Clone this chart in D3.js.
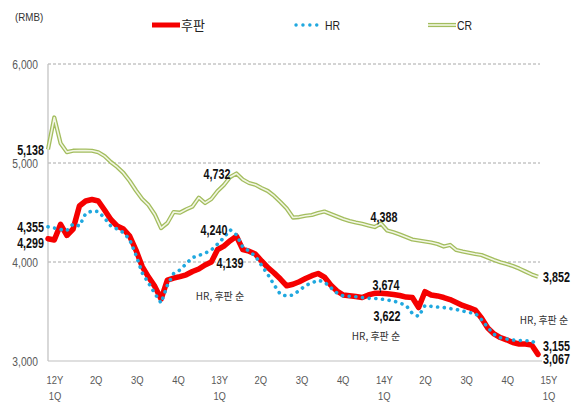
<!DOCTYPE html>
<html><head><meta charset="utf-8">
<script src="https://cdn.jsdelivr.net/npm/d3@7"></script>
<style>
body{margin:0;background:#fff;}
svg{display:block;}
.num{font-family:"Liberation Sans",Arial,sans-serif;}
.kr{font-family:"Noto Sans CJK KR","Noto Sans",sans-serif;}
</style></head><body>
<svg id="c" width="578" height="403"></svg>
<script>
// bi-weekly observations, 12Y 1Q .. 15Y 1Q
const plateValues = [4235,4222,4380,4268,4333,4566,4616,4631,4616,4525,
  4429,4364,4333,4262,4121,3954,3848,3754,3626,3818,
  3838,3853,3871,3904,3929,3970,4000,4126,4161,4215,
  4260,4126,4109,4081,4010,3944,3889,3828,3760,3775,
  3801,3833,3862,3884,3848,3768,3707,3667,3659,3651,
  3641,3667,3684,3684,3679,3672,3662,3646,3641,3540,
  3700,3667,3657,3641,3621,3591,3561,3540,3515,3434,
  3333,3273,3237,3214,3187,3172,3172,3162,3067];
const hrValues = [4355,4343,4328,4318,4384,4364,4490,4515,4510,4444,
  4364,4333,4298,4227,4071,3889,3788,3682,3586,3763,
  3884,3919,3983,4045,4066,4088,4121,4182,4247,4325,
  4275,4151,4111,4060,3965,3874,3768,3672,3657,3667,
  3712,3763,3788,3815,3798,3742,3687,3657,3654,3649,
  3641,3633,3633,3626,3616,3606,3586,3561,3480,3450,
  3560,3552,3545,3540,3530,3520,3505,3490,3482,3419,
  3338,3270,3235,3222,3212,3207,3205,3205,3155];
const crValues = [5138,5460,5200,5110,5124,5125,5126,5124,5108,5070,
  5010,4960,4900,4818,4722,4636,4575,4480,4343,4394,
  4505,4498,4532,4560,4650,4596,4636,4717,4778,4858,
  4894,4833,4798,4781,4747,4717,4667,4606,4540,4449,
  4454,4467,4475,4495,4510,4485,4459,4434,4414,4399,
  4386,4369,4353,4389,4318,4300,4278,4252,4227,4217,
  4207,4197,4182,4156,4172,4121,4106,4093,4081,4071,
  4045,4020,3997,3980,3960,3934,3904,3874,3852];
const quarterLabels = [["12Y","1Q"],["2Q"],["3Q"],["4Q"],["13Y","1Q"],["2Q"],["3Q"],["4Q"],["14Y","1Q"],["2Q"],["3Q"],["4Q"],["15Y","1Q"]];
const yTicks = [3000,4000,5000,6000];
const seriesNames = ["후판","HR","CR"];
const unitLabel = "(RMB)";
const noteText = "HR, 후판 순";

const svg = d3.select("#c");
const L = 48, R = 538, T = 64, B = 361;
const x = d3.scaleLinear().domain([0, plateValues.length - 1]).range([L, R]);
const y = d3.scaleLinear().domain([3000, 6000]).range([B, T]);
const xq = d3.scaleLinear().domain([0, quarterLabels.length - 1]).range([55, 549]);

// condense text horizontally (narrow face look)
function condense(sel, f) {
  sel.each(function() {
    const w = this.getComputedTextLength();
    d3.select(this).attr("textLength", w * f).attr("lengthAdjust", "spacingAndGlyphs");
  });
}

// gridlines
svg.append("g").selectAll("line").data(yTicks.filter(d => d > 3000)).join("line")
  .attr("x1", L).attr("x2", 540).attr("y1", d => y(d)).attr("y2", d => y(d))
  .attr("stroke", "#a8a8a8").attr("stroke-width", 1).attr("stroke-dasharray", "3,2");

// axes lines
svg.append("line").attr("x1", L).attr("x2", L).attr("y1", T).attr("y2", B)
  .attr("stroke", "#bfbfbf").attr("stroke-width", 1.2);
svg.append("line").attr("x1", L).attr("x2", 542).attr("y1", B).attr("y2", B)
  .attr("stroke", "#bfbfbf").attr("stroke-width", 1.2);

// y axis labels
const yAxis = d3.axisLeft(y).tickValues(yTicks).tickSize(0).tickPadding(10).tickFormat(d3.format(","));
const ya = svg.append("g").attr("transform", `translate(${L},0)`).call(yAxis);
ya.select(".domain").remove();
ya.selectAll("text").attr("class", "num").attr("font-size", 12.5).attr("fill", "#595959").attr("font-family", null);
condense(ya.selectAll("text"), 0.82);

// x labels
const xl = svg.append("g");
quarterLabels.forEach((lab, i) => {
  const t = xl.append("text").attr("class", "num").attr("font-size", 11.5).attr("fill", "#595959")
    .attr("text-anchor", "middle").attr("x", xq(i)).attr("y", 384);
  lab.forEach((s, j) => {
    t.append("tspan").attr("x", xq(i)).attr("dy", j ? 16 : 0).text(s);
  });
});
xl.selectAll("tspan").each(function() {
  const w = this.getComputedTextLength();
  d3.select(this).attr("textLength", w * 0.82).attr("lengthAdjust", "spacingAndGlyphs");
});

const line = d3.line().x((d, i) => x(i)).y(d => y(d));

// CR double line
svg.append("path").attr("d", line(crValues)).attr("fill", "none")
  .attr("stroke", "#a3bd5e").attr("stroke-width", 4.2).attr("stroke-linejoin", "round");
svg.append("path").attr("d", line(crValues)).attr("fill", "none")
  .attr("stroke", "#f2f6e4").attr("stroke-width", 1.6).attr("stroke-linejoin", "round");

// plate (red)
svg.append("path").attr("d", line(plateValues)).attr("fill", "none")
  .attr("stroke", "#f50000").attr("stroke-width", 5.5).attr("stroke-linejoin", "round").attr("stroke-linecap", "round");

// HR dotted
svg.append("path").attr("d", line(hrValues)).attr("fill", "none")
  .attr("stroke", "#20a8df").attr("stroke-width", 3.6).attr("stroke-linecap", "round")
  .attr("stroke-dasharray", "0.1,6.6");

// legend
const unit = svg.append("text").attr("class", "num").attr("x", 15).attr("y", 21).attr("font-size", 11.5).attr("fill", "#333").text(unitLabel);
condense(unit, 0.85);
const lg = svg.append("g");
lg.append("line").attr("x1", 152).attr("x2", 180).attr("y1", 25).attr("y2", 25)
  .attr("stroke", "#f50000").attr("stroke-width", 5);
lg.append("text").attr("class", "kr").attr("x", 181).attr("y", 30).attr("font-size", 13).attr("fill", "#222").text(seriesNames[0]);
lg.append("line").attr("x1", 296).attr("x2", 318).attr("y1", 25).attr("y2", 25)
  .attr("stroke", "#20a8df").attr("stroke-width", 3.4).attr("stroke-linecap", "round").attr("stroke-dasharray", "0.1,6.8");
const t2 = lg.append("text").attr("class", "num").attr("x", 325).attr("y", 30).attr("font-size", 13).attr("fill", "#222").text(seriesNames[1]);
lg.append("line").attr("x1", 428).attr("x2", 456).attr("y1", 25).attr("y2", 25)
  .attr("stroke", "#a3bd5e").attr("stroke-width", 4.2);
lg.append("line").attr("x1", 428).attr("x2", 456).attr("y1", 25).attr("y2", 25)
  .attr("stroke", "#f2f6e4").attr("stroke-width", 1.6);
const t3 = lg.append("text").attr("class", "num").attr("x", 457).attr("y", 30).attr("font-size", 13).attr("fill", "#222").text(seriesNames[2]);
condense(t2, 0.8); condense(t3, 0.8);

// value annotations
const valueNotes = [
  {v: crValues[0], x: 44, y: 155, a: "end"},
  {v: hrValues[0], x: 44, y: 232, a: "end"},
  {v: 4299, x: 44, y: 248, a: "end"},
  {v: 4732, x: 217, y: 179, a: "middle"},
  {v: 4240, x: 214, y: 235, a: "middle"},
  {v: 4139, x: 230, y: 268, a: "middle"},
  {v: 4388, x: 384, y: 222, a: "middle"},
  {v: 3674, x: 386, y: 290, a: "middle"},
  {v: 3622, x: 387, y: 321, a: "middle"},
  {v: crValues[crValues.length - 1], x: 543, y: 282, a: "start"},
  {v: hrValues[hrValues.length - 1], x: 543, y: 351, a: "start"},
  {v: plateValues[plateValues.length - 1], x: 543, y: 364, a: "start"}
];
const vn = svg.append("g").selectAll("text").data(valueNotes).join("text")
  .attr("class", "num").attr("font-weight", "bold").attr("font-size", 14.5).attr("fill", "#111")
  .attr("x", d => d.x).attr("y", d => d.y).attr("text-anchor", d => d.a)
  .text(d => d3.format(",")(d.v));
condense(vn, 0.74);

const orderNotes = [{x: 220, y: 300}, {x: 376, y: 340}, {x: 544, y: 324}];
svg.append("g").selectAll("text").data(orderNotes).join("text")
  .attr("class", "kr").attr("font-size", 10).attr("fill", "#333").attr("text-anchor", "middle")
  .attr("x", d => d.x).attr("y", d => d.y).text(noteText);
</script>
</body></html>
